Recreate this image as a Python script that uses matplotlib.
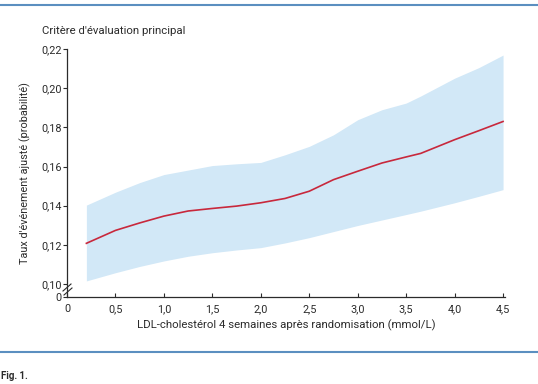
import numpy as np
import matplotlib
matplotlib.use("Agg")
import matplotlib.pyplot as plt
from matplotlib.lines import Line2D

plt.rcParams['font.family'] = ['Roboto', 'DejaVu Sans']

# LDL-cholesterol (mmol/L)
ldl = [0.2, 0.5, 0.75, 1.0, 1.25, 1.5, 1.75, 2.0, 2.25, 2.5, 2.75,
       3.0, 3.25, 3.5, 3.65, 4.0, 4.25, 4.5]
# adjusted event rate and its band
rate = [0.1208, 0.1274, 0.1312, 0.1347, 0.1373, 0.1386, 0.1398, 0.1415, 0.1437,
        0.1474, 0.1533, 0.1576, 0.1618, 0.1649, 0.1667, 0.1737, 0.1783, 0.1830]
upper = [0.1403, 0.1469, 0.1518, 0.1559, 0.1582, 0.1605, 0.1614, 0.1621, 0.1660,
         0.1703, 0.1762, 0.1839, 0.1890, 0.1924, 0.1960, 0.2051, 0.2105, 0.2169]
lower = [0.1016, 0.1058, 0.1090, 0.1118, 0.1142, 0.1160, 0.1174, 0.1186, 0.1210,
         0.1237, 0.1268, 0.1299, 0.1327, 0.1355, 0.1372, 0.1415, 0.1448, 0.1482]

xticks = [0, 0.5, 1.0, 1.5, 2.0, 2.5, 3.0, 3.5, 4.0, 4.5]
xlabels = ['0', '0,5', '1,0', '1,5', '2,0', '2,5', '3,0', '3,5', '4,0', '4,5']
yticks = [0.0934, 0.10, 0.12, 0.14, 0.16, 0.18, 0.20, 0.22]
ylabels = ['0', '0,10', '0,12', '0,14', '0,16', '0,18', '0,20', '0,22']

W, H = 538, 384
fig = plt.figure(figsize=(W / 100, H / 100), dpi=100)
ax = fig.add_axes([67 / W, 1 - 297 / H, (505 - 67) / W, (297 - 49) / H])

txt = '#2b2b2b'
ax.fill_between(ldl, lower, upper, color='#d2e8f7', lw=0)
ax.plot(ldl, rate, color='#c8283c', lw=1.2, solid_joinstyle='round')

ax.set_xlim(0, 4.52)
ax.set_ylim(0.0934, 0.22)
ax.set_xticks(xticks)
ax.set_xticklabels(xlabels)
ax.set_yticks(yticks)
ax.set_yticklabels(ylabels)
ax.tick_params(axis='x', direction='in', length=3, width=0.8, colors=txt,
               labelsize=7.8, pad=5)
ax.tick_params(axis='y', direction='out', length=3, width=0.8, colors=txt,
               labelsize=7.8, pad=1)
for s in ['top', 'right']:
    ax.spines[s].set_visible(False)
for s in ['left', 'bottom']:
    ax.spines[s].set_color(txt)
    ax.spines[s].set_linewidth(0.9)

ax.set_xlabel("LDL-cholestérol 4 semaines après randomisation (mmol/L)",
              fontsize=8.2, color=txt, labelpad=4)
ax.set_ylabel("Taux d'événement ajusté (probabilité)", fontsize=7.8,
              color=txt, labelpad=7)

# axis break marks (figure pixels)
def px(x, y):
    return x / W, 1 - y / H

for (x0, y0, x1, y1) in [(63, 291, 71, 284), (64, 295, 72, 288)]:
    a, b = px(x0, y0)
    c, d = px(x1, y1)
    fig.add_artist(Line2D([a, c], [b, d], color=txt, lw=0.8))

fig.text(42 / W, 1 - 31 / H, "Critère d'évaluation principal", fontsize=8.2,
         color=txt, va='center')

# frame lines of the page
fig.add_artist(Line2D([0, 1], [1 - 5 / H, 1 - 5 / H], color='#5b8fc0', lw=1.5))
fig.add_artist(Line2D([0, 1], [1 - 352 / H, 1 - 352 / H], color='#5b8fc0', lw=1.5))
fig.text(1 / W, 1 - 376 / H, "Fig. 1.", fontsize=7, fontweight='bold',
         color=txt, va='center')

fig.savefig('out.png', dpi=100)
